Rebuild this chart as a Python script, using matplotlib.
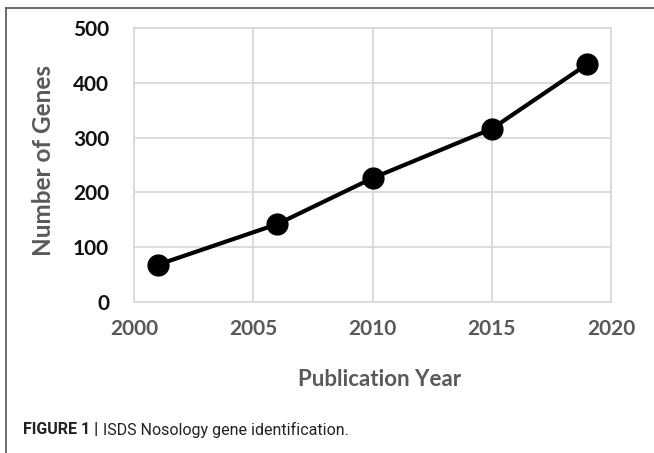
import matplotlib
matplotlib.use("Agg")
import matplotlib.pyplot as plt
from matplotlib.lines import Line2D

# data
years = [2001, 2006, 2010, 2015, 2019]
genes = [68, 142, 226, 316, 434]
xticks = [2000, 2005, 2010, 2015, 2020]
yticks = [0, 100, 200, 300, 400, 500]

W, H = 654, 453
fig = plt.figure(figsize=(W / 100, H / 100), dpi=100)
ax = fig.add_axes([134 / W, 1 - 302 / H, (611 - 134) / W, (302 - 28) / H])

ax.plot(years, genes, color='k', linewidth=3, marker='o', markersize=15,
        solid_capstyle='round', zorder=3)

ax.set_xlim(2000, 2020)
ax.set_ylim(0, 500)
ax.set_xticks(xticks)
ax.set_yticks(yticks)
ax.grid(True, color='#d9d9d9', linewidth=1.3)
for s in ax.spines.values():
    s.set_color('#d9d9d9')
    s.set_linewidth(1.3)
ax.tick_params(length=0, pad=12)

for lab in ax.get_xticklabels():
    lab.set_family('Lato'); lab.set_weight('bold'); lab.set_size(15); lab.set_color('#595959')
for lab in ax.get_yticklabels():
    lab.set_family('Lato'); lab.set_weight('bold'); lab.set_size(15); lab.set_color('#111111')
ax.tick_params(axis='y', pad=18)

fig.text(44 / W, 1 - 161 / H, 'Number of Genes', rotation=90, ha='center', va='center',
         family='Lato', weight='bold', size=17.5, color='#595959')
fig.text(380 / W, 1 - 379 / H, 'Publication Year', ha='center', va='center',
         family='Lato', weight='bold', size=16, color='#595959')

# caption
cap_font = ['Liberation Sans Narrow', 'Roboto', 'DejaVu Sans']
t1 = fig.text(23 / W, 1 - 430 / H, 'FIGURE 1 |', ha='left', va='center',
              family=cap_font, weight='bold', size=11.5, color='#222222')
r = fig.canvas.get_renderer()
x1 = t1.get_window_extent(r).x1
fig.text((x1 + 5) / W, 1 - 430 / H, 'ISDS Nosology gene identification.', ha='left', va='center',
         family=cap_font, size=11.5, color='#222222')

# outer frame
fig.add_artist(Line2D([6 / W, 1], [1 - 8 / H, 1 - 8 / H], color='#555555', linewidth=1.2))
fig.add_artist(Line2D([6 / W, 6 / W], [1 - 8 / H, 0], color='#555555', linewidth=1.2))

fig.savefig('out.png', dpi=100)
